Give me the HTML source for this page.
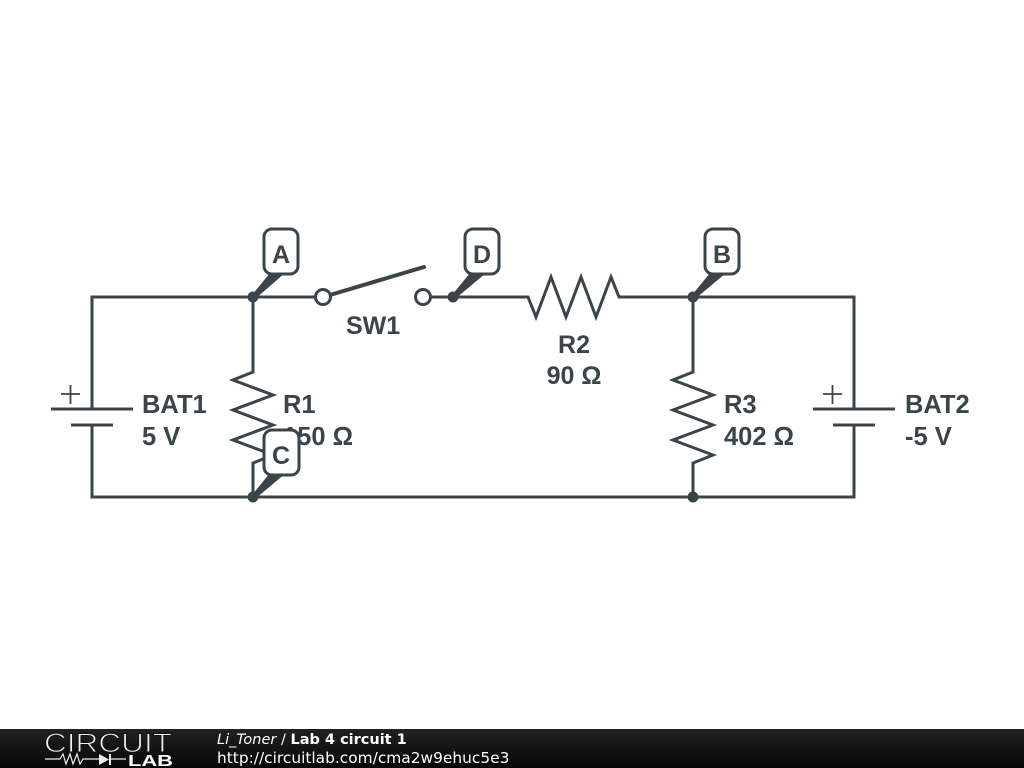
<!DOCTYPE html>
<html>
<head>
<meta charset="utf-8">
<style>
html,body{margin:0;padding:0;background:#fff;width:1024px;height:768px;overflow:hidden}
svg{display:block}
.l{font-family:"Liberation Sans",Arial,sans-serif;font-weight:bold;font-size:25.5px;fill:#3b4449}
.t{font-family:"Liberation Sans",Arial,sans-serif;font-weight:bold;font-size:25px;fill:#3b4449;text-anchor:middle}
.w{fill:none;stroke:#3b4449;stroke-width:3;stroke-linejoin:miter}
.f{font-family:"DejaVu Sans",sans-serif;fill:#fff}
</style>
</head>
<body>
<svg width="1024" height="768" viewBox="0 0 1024 768" xmlns="http://www.w3.org/2000/svg">
<defs>
<linearGradient id="g" x1="0" y1="0" x2="0" y2="1">
<stop offset="0" stop-color="#222"/>
<stop offset="1" stop-color="#060606"/>
</linearGradient>
</defs>
<rect width="1024" height="768" fill="#fff"/>

<!-- wires -->
<path class="w" d="M92 409V297H316M430 297H528L536 317L551 277L566 317L581 277L596 317L611 277L619 297H854V409"/>
<path class="w" d="M92 425V497H854V425"/>
<path class="w" d="M253 297V372L233 380L273 395L233 410L273 425L233 440L273 455L253 463V497"/>
<path class="w" d="M693 297V372L673 380L713 395L673 410L713 425L673 440L713 455L693 463V497"/>

<!-- batteries -->
<path class="w" d="M51 409H133M71 425H113"/>
<path class="w" d="M813 409H895M833 425H875"/>
<path d="M61 394H80M70.500 385V404" fill="none" stroke="#3b4449" stroke-width="1.800"/>
<path d="M823 394H842M832.500 385V404" fill="none" stroke="#3b4449" stroke-width="1.800"/>

<!-- switch -->
<path d="M330 295L424 267" fill="none" stroke="#3b4449" stroke-width="4" stroke-linecap="round"/>
<circle cx="323" cy="297" r="7.500" fill="#fff" stroke="#3b4449" stroke-width="3"/>
<circle cx="423" cy="297" r="7.500" fill="#fff" stroke="#3b4449" stroke-width="3"/>

<!-- nodes -->
<circle cx="253" cy="297" r="5.500" fill="#3b4449"/>
<circle cx="453" cy="297" r="5.500" fill="#3b4449"/>
<circle cx="693" cy="297" r="5.500" fill="#3b4449"/>
<circle cx="253" cy="497" r="5.500" fill="#3b4449"/>
<circle cx="693" cy="497" r="5.500" fill="#3b4449"/>

<!-- labels -->
<text class="l" x="346" y="334" font-size="25" style="font-size:25px">SW1</text>
<text class="t" x="574" y="353">R2</text>
<text class="t" x="574" y="384">90 Ω</text>
<text class="l" x="142" y="413">BAT1</text>
<text class="l" x="142" y="445">5 V</text>
<text class="l" x="283" y="413">R1</text>
<text class="l" x="283" y="445">150 Ω</text>
<text class="l" x="724" y="413">R3</text>
<text class="l" x="724" y="445">402 Ω</text>
<text class="l" x="905" y="413">BAT2</text>
<text class="l" x="905" y="445">-5 V</text>

<!-- node tags -->
<path d="M252 295L270 273H285L255 299Z" fill="#3b4449"/>
<rect x="264" y="229" width="34" height="45" rx="8" fill="#fff" stroke="#3b4449" stroke-width="3"/>
<text class="t" x="281" y="263">A</text>

<path d="M452 295L470 273H486L455 299Z" fill="#3b4449"/>
<rect x="465" y="229" width="34" height="45" rx="8" fill="#fff" stroke="#3b4449" stroke-width="3"/>
<text class="t" x="482" y="263">D</text>

<path d="M692 295L710 273H726L695 299Z" fill="#3b4449"/>
<rect x="705" y="229" width="34" height="45" rx="8" fill="#fff" stroke="#3b4449" stroke-width="3"/>
<text class="t" x="722" y="263">B</text>

<path d="M252 495L270 473H286L255 499Z" fill="#3b4449"/>
<rect x="264" y="430" width="35" height="45" rx="8" fill="#fff" stroke="#3b4449" stroke-width="3"/>
<text class="t" x="281" y="464">C</text>

<!-- footer -->
<rect x="0" y="729" width="1024" height="39" fill="url(#g)"/>
<text x="44" y="752" font-family="Liberation Sans,sans-serif" font-size="27" fill="#f0f0f0" stroke="#151515" stroke-width="1" textLength="128" lengthAdjust="spacingAndGlyphs">CIRCUIT</text>
<path d="M45 759H60L63 754L66 764L70 754L73 764L77 754L80 764L83 759H99M110 759H126" fill="none" stroke="#eee" stroke-width="1.200"/>
<path d="M99 754V765L109 759.500ZM109 754H111V765H109Z" fill="#eee"/>
<text x="128" y="766" font-family="Liberation Sans,sans-serif" font-size="16" font-weight="bold" fill="#fff" textLength="45" lengthAdjust="spacingAndGlyphs">LAB</text>
<text class="f" x="217" y="744" font-size="14.5"><tspan font-style="italic">Li_Toner</tspan> / <tspan font-weight="bold">Lab 4 circuit 1</tspan></text>
<text class="f" x="217" y="763" font-size="15.400">http://circuitlab.com/cma2w9ehuc5e3</text>
</svg>
</body>
</html>
